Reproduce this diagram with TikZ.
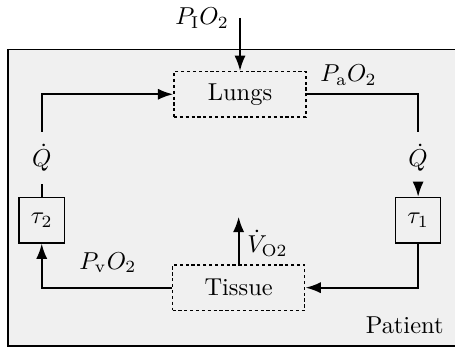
\documentclass[tikz,border=0pt]{standalone}
\usepackage{amsmath}
\usepackage{amssymb}
\usepackage{xcolor}
\usepackage{tikz}
\usetikzlibrary{arrows.meta, positioning}

\tikzset{
	organ/.style={draw, semithick, dash pattern=on 1.3pt off 1.1pt, fill=black!6, minimum width=1.9cm, minimum height=0.65cm},
	delay/.style={draw, semithick, minimum width=0.65cm, minimum height=0.65cm},
	flow/.style={thick, -{Latex[length=2.2mm, width=1.6mm]}},
	link/.style={thick}
}

\begin{document}
\begin{tikzpicture}
			\useasboundingbox (0,0) rectangle (6.54,5.015);
			\fill[black!6] (0.115,0.043) rectangle (6.60,4.30);
			\draw[semithick] (0.115,0.043) rectangle (6.60,4.30);
			
			\node[organ] (lungs) at (3.45,3.66) {Lungs};
			\node[organ] (tissue) at (3.43,0.88) {Tissue};
			\node[delay] (tau2) at (0.60,1.85) {$\tau_2$};
			\node[delay] (tau1) at (6.01,1.85) {$\tau_1$};
			\node[inner sep=5pt] (qleft) at (0.60,2.745) {$\dot{Q}$};
			\node[inner sep=5pt] (qright) at (6.01,2.745) {$\dot{Q}$};
			
			\coordinate (inlet) at (3.45,4.757);
			\coordinate (uptake) at (3.43,1.90);
			\node[left=1pt of inlet] (pio) {$P_{\mathrm{I}}O_2$};
			
			% blood circuit
			\draw[flow] (inlet) -- (lungs);
			\draw[link] (lungs.east) -| (qright.north);
			\draw[flow] (qright.south) -- (tau1.north);
			\draw[flow] (tau1.south) |- (tissue.east);
			\draw[flow] (tissue.west) -| (tau2.south);
			\draw[link] (tau2.north) -- (qleft.south);
			\draw[flow] (qleft.north) |- (lungs.west);
			\draw[flow] (tissue.north) -- (uptake);
			
			\node[above right=0pt and 2pt of lungs.east] (pao) {$P_{\mathrm{a}}O_2$};
			\node[right=0pt of uptake, yshift=-0.38cm] (vo) {$\dot{V}_{\mathrm{O2}}$};
			\node (pvo) at (1.55,1.24) {$P_{\mathrm{v}}O_2$};
			\node[anchor=south east] (patient) at (6.50,0.10) {Patient};
		\end{tikzpicture}
\end{document}
